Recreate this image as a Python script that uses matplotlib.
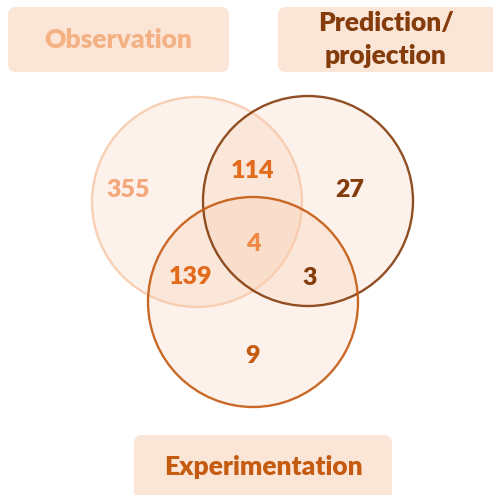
import matplotlib
matplotlib.use("Agg")
import matplotlib.pyplot as plt
from matplotlib.patches import Circle, FancyBboxPatch

plt.rcParams['font.family'] = ['Lato', 'DejaVu Sans']

# Data
set_names = ["Observation", "Prediction/\nprojection", "Experimentation"]
region_labels = ["O only", "P only", "E only", "O&P", "O&E", "P&E", "O&P&E"]
region_counts = [355, 27, 9, 114, 139, 3, 4]

# Styles
edge_colors = ["#F8CBAD", "#843C0C", "#C55A11"]
name_colors = ["#F4B183", "#843C0C", "#C55A11"]
count_colors = ["#F4A77A", "#843C0C", "#C55A11", "#E26B1C", "#E26B1C", "#843C0C", "#EE8A45"]
fill_color = "#F4B183"

W, H = 493, 495
fig = plt.figure(figsize=(W / 100, H / 100), dpi=100)
ax = fig.add_axes([0, 0, 1, 1])
ax.set_xlim(0, W)
ax.set_ylim(H, 0)
ax.set_aspect('equal')
ax.axis('off')

centers = [(197, 202), (308, 201), (253, 302)]
radius = 105
for c in centers:
    ax.add_patch(Circle(c, radius, facecolor=fill_color, alpha=0.16, edgecolor='none', zorder=1))
for c, ec in zip(centers, edge_colors):
    ax.add_patch(Circle(c, radius, facecolor='none', edgecolor=ec, linewidth=1.7, alpha=0.9, zorder=2))

region_pos = [(128, 190), (350, 190), (253, 356), (253, 171), (190, 277), (310, 278), (253, 244)]
for (x, y), n, col in zip(region_pos, region_counts, count_colors):
    ax.text(x, y, str(n), ha='center', va='center', fontsize=18, fontweight='heavy', color=col, zorder=3)

boxes = [(8, 7, 221, 65), (278, 7, 230, 65), (134, 435, 258, 70)]
name_pos = [(118, 40), (386, 40), (263, 467)]
for (bx, by, bw, bh), (tx, ty), name, col in zip(boxes, name_pos, set_names, name_colors):
    ax.add_patch(FancyBboxPatch((bx + 8, by + 8), bw - 16, bh - 16,
                                boxstyle="round,pad=8", facecolor="#FBE5D6",
                                edgecolor='none', zorder=1))
    ax.text(tx, ty, name, ha='center', va='center', fontsize=19, fontweight='heavy',
            color=col, linespacing=1.45, zorder=3)

fig.savefig("out.png", dpi=100)
